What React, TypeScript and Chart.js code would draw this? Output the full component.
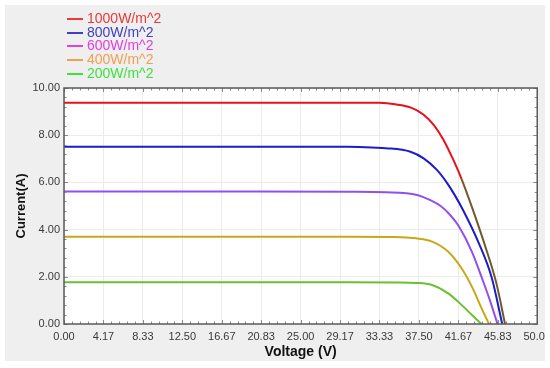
import React, { useEffect, useRef } from "react";
import { Chart, registerables } from "chart.js";

Chart.register(...registerables);

const seriesLabels = ["1000W/m^2", "800W/m^2", "600W/m^2", "400W/m^2", "200W/m^2"];

// Voltage (V) / Current (A) points
const v1000 = [0, 10, 20, 30, 33.3, 35, 36.6, 38.0, 39.1, 40.1, 41.2, 42.0, 43.1, 44.5, 45.7, 46.6];
const i1000 = [9.38, 9.38, 9.38, 9.38, 9.37, 9.31, 9.18, 8.87, 8.42, 7.8, 6.9, 6.15, 4.95, 3.3, 1.7, 0];

const v800 = [0, 10, 20, 30, 31.2, 34, 36.6, 38.0, 39.4, 40.5, 41.3, 42.2, 43.8, 45.2, 46.3];
const i800 = [7.51, 7.51, 7.51, 7.51, 7.5, 7.45, 7.3, 7.02, 6.53, 5.96, 5.45, 4.8, 3.45, 1.95, 0];

const v600 = [0, 10, 20, 30, 34, 37.3, 38.7, 39.8, 40.8, 41.7, 43.1, 44.3, 45.0, 45.8];
const i600 = [5.61, 5.61, 5.61, 5.6, 5.58, 5.47, 5.25, 5.0, 4.62, 4.15, 3.06, 1.79, 1.0, 0];

const v400 = [0, 10, 20, 30, 35, 37.2, 38.9, 40.6, 42.0, 43.2, 44.1, 44.9];
const i400 = [3.7, 3.7, 3.7, 3.7, 3.69, 3.63, 3.49, 3.06, 2.36, 1.5, 0.68, 0];

const v200 = [0, 10, 20, 30, 35, 37.2, 38.9, 40.6, 42.0, 43.1, 44.1];
const i200 = [1.77, 1.77, 1.77, 1.77, 1.76, 1.74, 1.65, 1.3, 0.81, 0.38, 0];

const xTickValues = [0, 4.17, 8.33, 12.5, 16.67, 20.83, 25, 29.17, 33.33, 37.5, 41.67, 45.83, 50];
const yTickValues = [0, 2, 4, 6, 8, 10];

const lineColors = ["#e8101a", "#1c1cc8", "#9050f0", "#c8a818", "#6cc030"];
const legendColors = ["#e83a3a", "#4040c0", "#e040e0", "#f0a050", "#40e040"];

const FONT = "'Liberation Sans', Arial, sans-serif";

const plotFrame = {
  id: "plotFrame",
  beforeDraw(chart: any) {
    const { ctx, chartArea } = chart;
    ctx.save();
    ctx.fillStyle = "#ffffff";
    ctx.fillRect(chartArea.left, chartArea.top, chartArea.right - chartArea.left, chartArea.bottom - chartArea.top);
    ctx.restore();
  },
  afterDatasetsDraw(chart: any) {
    const { ctx, chartArea, scales } = chart;
    const { left, right, top, bottom } = chartArea;
    ctx.save();
    ctx.strokeStyle = "#8a8a8a";
    ctx.lineWidth = 1;
    const xs = scales.x;
    const ys = scales.y;
    ctx.beginPath();
    for (let k = 0; k <= 60; k++) {
      const v = (50 / 60) * k;
      const px = Math.round(xs.getPixelForValue(v)) + 0.5;
      const len = k % 5 === 0 ? 4 : 2.5;
      ctx.moveTo(px, bottom);
      ctx.lineTo(px, bottom - len);
      ctx.moveTo(px, top);
      ctx.lineTo(px, top + len);
    }
    for (let k = 0; k <= 25; k++) {
      const v = 0.4 * k;
      const py = Math.round(ys.getPixelForValue(v)) + 0.5;
      const len = k % 5 === 0 ? 4 : 2.5;
      ctx.moveTo(left, py);
      ctx.lineTo(left + len, py);
      ctx.moveTo(right, py);
      ctx.lineTo(right - len, py);
    }
    ctx.stroke();
    ctx.strokeStyle = "#5a5a5a";
    ctx.lineWidth = 1.5;
    ctx.strokeRect(left, top, right - left, bottom - top);
    ctx.restore();
  },
};

export default function App() {
  const canvasRef = useRef<HTMLCanvasElement | null>(null);

  useEffect(() => {
    if (!canvasRef.current) return;
    const pairs = [
      [v1000, i1000],
      [v800, i800],
      [v600, i600],
      [v400, i400],
      [v200, i200],
    ];
    const datasets = pairs.map(([vs, is], idx) => {
      const ds: any = {
        label: seriesLabels[idx],
        data: vs.map((x, j) => ({ x, y: is[j] })),
        borderColor: lineColors[idx],
        backgroundColor: lineColors[idx],
        borderWidth: 2,
        pointRadius: 0,
        fill: false,
        cubicInterpolationMode: "monotone",
      };
      if (idx === 0) {
        ds.segment = {
          borderColor: (c: any) => (c.p0.parsed.x >= 42.0 ? "#705a2c" : lineColors[0]),
        };
      }
      return ds;
    });

    const chart = new Chart(canvasRef.current, {
      type: "line",
      data: { datasets },
      plugins: [plotFrame],
      options: {
        responsive: false,
        animation: false,
        layout: { padding: { left: 0, top: 88, right: 0, bottom: 0 } },
        plugins: {
          legend: { display: false },
          tooltip: { enabled: false },
        },
        scales: {
          x: {
            type: "linear",
            min: 0,
            max: 50,
            afterFit: (s: any) => {
              s.height = 44;
            },
            afterBuildTicks: (s: any) => {
              s.ticks = xTickValues.map((value) => ({ value }));
            },
            border: { display: false },
            grid: { color: "#ececec", lineWidth: 1, drawTicks: false },
            ticks: {
              padding: 6,
              color: "#3a3a3a",
              font: { family: FONT, size: 11 },
              maxRotation: 0,
              autoSkip: false,
              callback: (v: any) => Number(v).toFixed(2),
            },
            title: {
              display: true,
              text: "Voltage (V)",
              color: "#111111",
              font: { family: FONT, size: 14, weight: "bold" },
              padding: { top: 0, bottom: 7 },
            },
          },
          y: {
            type: "linear",
            min: 0,
            max: 10,
            afterFit: (s: any) => {
              s.width = 64;
            },
            afterBuildTicks: (s: any) => {
              s.ticks = yTickValues.map((value) => ({ value }));
            },
            border: { display: false },
            grid: { color: "#ececec", lineWidth: 1, drawTicks: false },
            ticks: {
              padding: 4,
              color: "#3a3a3a",
              font: { family: FONT, size: 11 },
              callback: (v: any) => Number(v).toFixed(2),
            },
            title: {
              display: true,
              text: "Current(A)",
              color: "#111111",
              font: { family: FONT, size: 13, weight: "bold" },
              padding: { top: 14, bottom: 0 },
            },
          },
        },
      } as any,
    });
    return () => chart.destroy();
  }, []);

  return (
    <div style={{ position: "fixed", left: 0, top: 0, width: 550, height: 368, background: "#ffffff", overflow: "hidden" }}>
      <div style={{ position: "absolute", left: 5, top: 5, width: 540, height: 356, background: "#efefef" }} />
      <div style={{ position: "absolute", left: 0, top: 0, width: 545, height: 368, overflow: "hidden" }}>
        <canvas ref={canvasRef} width={557} height={368} style={{ width: 557, height: 368, display: "block" }} />
      </div>
      <div style={{ position: "absolute", left: 67, top: 12, fontFamily: FONT, fontSize: 14, lineHeight: "13.7px" }}>
        {seriesLabels.map((lab, i) => (
          <div key={lab} style={{ display: "flex", alignItems: "center", height: 13.7, color: legendColors[i] }}>
            <span style={{ display: "inline-block", width: 16, height: 2, background: legendColors[i], marginRight: 4 }} />
            <span>{lab}</span>
          </div>
        ))}
      </div>
    </div>
  );
}
